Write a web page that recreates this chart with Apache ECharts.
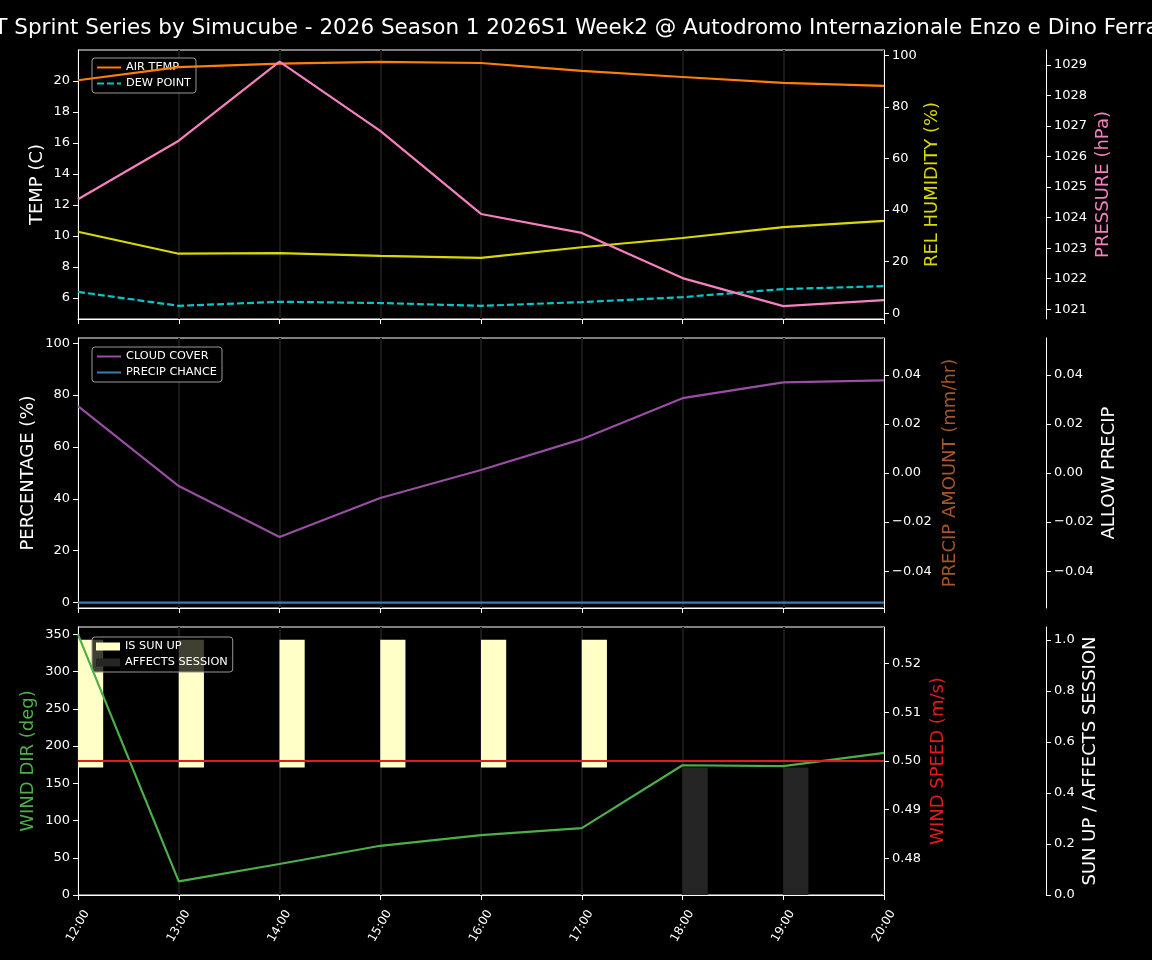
<!DOCTYPE html>
<html>
<head>
<meta charset="utf-8">
<script src="https://cdn.jsdelivr.net/npm/echarts@6/dist/echarts.min.js"></script>
<style>
  html, body { margin: 0; padding: 0; background: #000; }
  #chart { width: 1152px; height: 960px; }
</style>
</head>
<body>
<div id="chart"></div>
<script>
// hourly forecast values
const hours = [12, 13, 14, 15, 16, 17, 18, 19, 20];
const timeLabels = ['12:00', '13:00', '14:00', '15:00', '16:00', '17:00', '18:00', '19:00', '20:00'];

const airTemp = [20.05, 20.9, 21.12, 21.23, 21.16, 20.65, 20.26, 19.88, 19.68];
const dewPoint = [6.4, 5.5, 5.76, 5.68, 5.5, 5.74, 6.06, 6.58, 6.77];
const relHumidity = [31.6, 23.1, 23.3, 22.3, 21.5, 25.6, 29.2, 33.4, 35.8];
const pressure = [1024.6, 1026.52, 1029.11, 1026.84, 1024.12, 1023.5, 1022.02, 1021.1, 1021.3];

const cloudCover = [75.7, 44.9, 25.3, 40.3, 51.1, 63.0, 78.8, 84.9, 85.7];
const precipChance = [0, 0, 0, 0, 0, 0, 0, 0, 0];

const windDir = [350, 18.4, 41.6, 66.1, 80.5, 89.8, 174.3, 173.2, 190.8];
const windSpeed = [0.5, 0.5, 0.5, 0.5, 0.5, 0.5, 0.5, 0.5, 0.5];
const isSunUp = [1, 1, 1, 1, 1, 1, 0, 0, 0];
const affectsSession = [0, 0, 0, 0, 0, 0, 1, 1, 0];

// tick labels
const tempTicks = [6, 8, 10, 12, 14, 16, 18, 20];
const humidityTicks = [0, 20, 40, 60, 80, 100];
const pressureTicks = [1021, 1022, 1023, 1024, 1025, 1026, 1027, 1028, 1029];
const percentTicks = [0, 20, 40, 60, 80, 100];
const precipTicks = [-0.04, -0.02, 0, 0.02, 0.04];
const windDirTicks = [0, 50, 100, 150, 200, 250, 300, 350];
const windSpeedTicks = [0.48, 0.49, 0.50, 0.51, 0.52];
const sunTicks = [0, 0.2, 0.4, 0.6, 0.8, 1.0];

const TITLE = 'GT Sprint Series by Simucube - 2026 Season 1 2026S1 Week2 @ Autodromo Internazionale Enzo e Dino Ferrari';
const FONT = 'DejaVu Sans';
const BAR_SPAN = 0.25; // bar width in hours, left edge on the hour

const pairs = (vals) => hours.map((h, i) => [h, vals[i]]);
const minus = (s) => s.replace('-', '\u2212');

const grids = [
  { left: 78, right: 268, top: 50, height: 269 },
  { left: 78, right: 268, top: 338, height: 270 },
  { left: 78, right: 268, top: 627, height: 268 }
].map(g => Object.assign(g, { show: true, borderColor: '#fff', borderWidth: 1, backgroundColor: '#000' }));

function xAxis(idx, labels) {
  return {
    type: 'value', gridIndex: idx, min: 12, max: 20, interval: 1,
    axisLine: { show: true, onZero: false, lineStyle: { color: '#fff' } },
    axisTick: { show: true, length: 5, lineStyle: { color: '#fff' } },
    axisLabel: {
      show: labels, rotate: 60, color: '#fff', fontFamily: FONT, fontSize: 12, margin: 31,
      align: 'center', verticalAlign: 'middle',
      formatter: (v) => timeLabels[hours.indexOf(v)] || ''
    },
    splitLine: { show: true, lineStyle: { color: '#191919', width: 2 } }
  };
}

function yAxis(o) {
  return {
    type: 'value', gridIndex: o.grid, position: o.pos, offset: o.offset || 0,
    min: o.min, max: o.max,
    name: o.name, nameLocation: 'middle', nameRotate: 90, nameGap: o.gap, nameMoveOverlap: false,
    nameTextStyle: { color: o.nameColor || '#fff', fontFamily: FONT, fontSize: 18 },
    axisLine: { show: true, onZero: false, lineStyle: { color: '#fff' } },
    axisTick: { show: true, length: 5, lineStyle: { color: '#fff' }, customValues: o.ticks },
    axisLabel: { color: '#fff', fontFamily: FONT, fontSize: 13, margin: 8, customValues: o.ticks, formatter: o.fmt },
    splitLine: { show: false }
  };
}

function line(name, x, y, data, color, dashed) {
  return {
    name: name, type: 'line', xAxisIndex: x, yAxisIndex: y, data: pairs(data),
    showSymbol: false, symbol: 'none', z: 5, silent: true,
    lineStyle: { color: color, width: 2.2, type: dashed ? [7, 3] : 'solid' },
    itemStyle: { color: color }
  };
}

function bars(name, flags, lo, hi, color) {
  const data = hours.filter((h, i) => flags[i]).map(h => [h, lo, hi]);
  return {
    name: name, type: 'custom', xAxisIndex: 2, yAxisIndex: 8, data: data, z: 1, silent: true,
    itemStyle: { color: color },
    encode: { x: 0, y: [1, 2] },
    renderItem: (params, api) => {
      const top = api.coord([api.value(0), api.value(2)]);
      const bot = api.coord([api.value(0) + BAR_SPAN, api.value(1)]);
      return {
        type: 'rect',
        shape: { x: top[0], y: top[1], width: bot[0] - top[0], height: bot[1] - top[1] },
        style: { fill: color }
      };
    }
  };
}

function legend(top, names, icon) {
  const lg = {
    left: 92, top: top, orient: 'vertical', data: names,
    itemWidth: 24, itemHeight: icon ? 8 : 10, itemGap: 5,
    padding: [4, 5, 4, 4], backgroundColor: 'rgba(0,0,0,0.75)',
    borderColor: '#999', borderWidth: 1, borderRadius: 3,
    textStyle: { color: '#fff', fontFamily: FONT, fontSize: 11.3 },
    selectedMode: false
  };
  if (icon) lg.icon = icon;
  else lg.itemStyle = { opacity: 0 };
  return lg;
}

const fmtInt = (v) => String(Math.round(v));

const option = {
  backgroundColor: '#000',
  animation: false,
  graphic: [{
    type: 'text', x: 576, y: 28, silent: true,
    style: {
      text: TITLE, textAlign: 'center', textVerticalAlign: 'middle',
      fill: '#fff', font: '21.5px "DejaVu Sans"'
    }
  }],
  legend: [
    legend(58, ['AIR TEMP', 'DEW POINT']),
    legend(347, ['CLOUD COVER', 'PRECIP CHANCE']),
    legend(637, ['IS SUN UP', 'AFFECTS SESSION'], 'rect')
  ],
  grid: grids,
  xAxis: [xAxis(0, false), xAxis(1, false), xAxis(2, true)],
  yAxis: [
    yAxis({ grid: 0, pos: 'left', min: 4.65, max: 22.0, ticks: tempTicks, fmt: fmtInt, name: 'TEMP (C)', gap: 32 }),
    yAxis({ grid: 0, pos: 'right', min: -2.2, max: 102.05, ticks: humidityTicks, fmt: fmtInt, name: 'REL HUMIDITY (%)', gap: 39, nameColor: '#d9d900' }),
    yAxis({ grid: 0, pos: 'right', offset: 162, min: 1020.68, max: 1029.49, ticks: pressureTicks, fmt: fmtInt, name: 'PRESSURE (hPa)', gap: 48, nameColor: '#f781bf' }),
    yAxis({ grid: 1, pos: 'left', min: -2.1, max: 102, ticks: percentTicks, fmt: fmtInt, name: 'PERCENTAGE (%)', gap: 41 }),
    yAxis({ grid: 1, pos: 'right', min: -0.055, max: 0.055, ticks: precipTicks, fmt: (v) => minus(v.toFixed(2)), name: 'PRECIP AMOUNT (mm/hr)', gap: 57, nameColor: '#a65628' }),
    yAxis({ grid: 1, pos: 'right', offset: 162, min: -0.055, max: 0.055, ticks: precipTicks, fmt: (v) => minus(v.toFixed(2)), name: 'ALLOW PRECIP', gap: 54 }),
    yAxis({ grid: 2, pos: 'left', min: 0, max: 360, ticks: windDirTicks, fmt: fmtInt, name: 'WIND DIR (deg)', gap: 41, nameColor: '#4daf4a' }),
    yAxis({ grid: 2, pos: 'right', min: 0.4725, max: 0.5275, ticks: windSpeedTicks, fmt: (v) => v.toFixed(2), name: 'WIND SPEED (m/s)', gap: 45, nameColor: '#e41a1c' }),
    yAxis({ grid: 2, pos: 'right', offset: 162, min: 0, max: 1.05, ticks: sunTicks, fmt: (v) => v.toFixed(1), name: 'SUN UP / AFFECTS SESSION', gap: 35 })
  ],
  series: [
    line('AIR TEMP', 0, 0, airTemp, '#ff7f00'),
    line('DEW POINT', 0, 0, dewPoint, '#00c8c8', true),
    line('REL HUMIDITY', 0, 1, relHumidity, '#d9d900'),
    line('PRESSURE', 0, 2, pressure, '#f781bf'),
    line('CLOUD COVER', 1, 3, cloudCover, '#984ea3'),
    line('PRECIP CHANCE', 1, 3, precipChance, '#377eb8'),
    bars('IS SUN UP', isSunUp, 0.5, 1.0, '#ffffc8'),
    bars('AFFECTS SESSION', affectsSession, 0, 0.5, '#252525'),
    line('WIND DIR', 2, 6, windDir, '#4daf4a'),
    line('WIND SPEED', 2, 7, windSpeed, '#e41a1c')
  ]
};

const chart = echarts.init(document.getElementById('chart'));
chart.setOption(option);
window.addEventListener('resize', chart.resize);
</script>
</body>
</html>
